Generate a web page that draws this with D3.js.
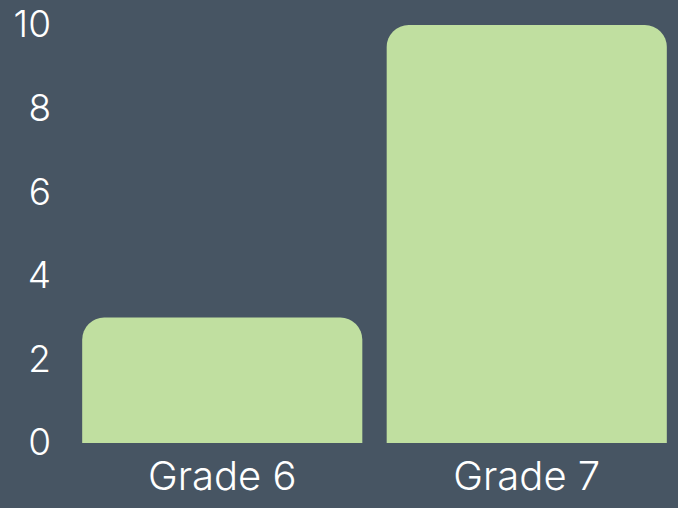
<!DOCTYPE html>
<html>
<head>
<meta charset="utf-8">
<script src="https://cdn.jsdelivr.net/npm/d3@7"></script>
<style>
  html, body { margin: 0; padding: 0; background: #475563; }
  svg { display: block; }
  text { font-family: Inter, "Open Sans", sans-serif; fill: #ffffff; }
</style>
</head>
<body>
<svg id="chart" width="678" height="508"></svg>
<script>
// DATA
const categories = ['Grade 6', 'Grade 7'];
const values = [3, 10];
const yTicks = [0, 2, 4, 6, 8, 10];

// SETUP
const svg = d3.select('#chart');
const width = 678, height = 508;

svg.append('rect')
  .attr('width', width)
  .attr('height', height)
  .attr('fill', '#475563');

const x = d3.scaleBand()
  .domain(categories)
  .range([70, 679])
  .paddingInner(0.08)
  .paddingOuter(0.04);

const y = d3.scaleLinear()
  .domain([0, 10])
  .range([443, 25]);

// bar with rounded top corners only
function topRounded(x0, y0, w, h, r) {
  r = Math.min(r, w / 2, h);
  const p = d3.path();
  p.moveTo(x0, y0 + h);
  p.lineTo(x0, y0 + r);
  p.arcTo(x0, y0, x0 + r, y0, r);
  p.lineTo(x0 + w - r, y0);
  p.arcTo(x0 + w, y0, x0 + w, y0 + r, r);
  p.lineTo(x0 + w, y0 + h);
  p.closePath();
  return p.toString();
}

// BARS
svg.append('g')
  .selectAll('path')
  .data(categories.map((c, i) => ({ cat: c, val: values[i] })))
  .enter()
  .append('path')
  .attr('fill', '#c0dfa0')
  .attr('d', d => topRounded(x(d.cat), y(d.val), x.bandwidth(), y(0) - y(d.val), 22));

// Y AXIS
const yAxis = svg.append('g')
  .attr('transform', 'translate(51,0)')
  .call(d3.axisLeft(y).tickValues(yTicks).tickSize(0).tickPadding(0));
yAxis.select('.domain').remove();
yAxis.selectAll('text')
  .attr('font-size', 37)
  .attr('font-weight', 300)
  .attr('fill', '#ffffff');

// X AXIS
const xAxis = svg.append('g')
  .attr('transform', 'translate(0,443)')
  .call(d3.axisBottom(x).tickSize(0).tickPadding(19));
xAxis.select('.domain').remove();
xAxis.selectAll('text')
  .attr('font-size', 40)
  .attr('font-weight', 300)
  .attr('fill', '#ffffff');
</script>
</body>
</html>
